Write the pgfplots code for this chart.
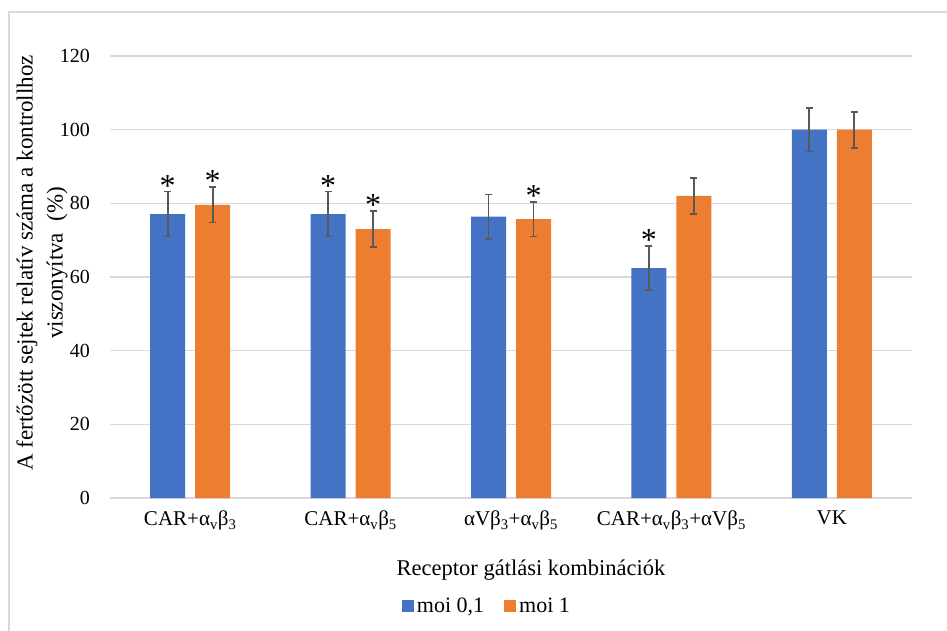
\documentclass[border=0pt]{standalone}
\usepackage{pgfplots}
\pgfplotsset{compat=1.18}
\usepackage{pgfplotstable}
\usepackage{fontspec}
\setmainfont{Liberation Serif}
\definecolor{cblue}{HTML}{4472C4}
\definecolor{corange}{HTML}{ED7D31}
\definecolor{gridc}{HTML}{D9D9D9}
\definecolor{errc}{HTML}{595959}

\pgfplotstableread{
x val err sig
0 77.1 6.1 1
1 77.1 6.1 1
2 76.4 6.0 0
3 62.4 6.0 1
4 100.0 5.95 0
}\blue
\pgfplotstableread{
x val err sig
0 79.6 4.8 1
1 73.0 4.85 1
2 75.7 4.7 1
3 82.0 4.9 0
4 100.0 4.9 0
}\orange

\pgfplotsset{myerr/.style={
  error bars/y dir=both, error bars/y explicit,
  error bars/error bar style={errc, line width=1.8pt},
  error bars/error mark options={errc, rotate=90, mark size=3.5pt, line width=1.8pt}}}

\begin{document}
\begin{tikzpicture}[x=1pt,y=1pt]
\useasboundingbox (0,0) rectangle (947,630);
\draw[gridc, line width=1.5pt] (9,-20) rectangle (980,618);
\begin{axis}[
  at={(110pt,132pt)}, anchor=south west,
  scale only axis, width=802pt, height=442pt,
  ybar=10pt, bar width=35pt,
  xmin=-0.5, xmax=4.5, ymin=0, ymax=120,
  ytick={0,20,...,120},
  xtick=data,
  xticklabels={CAR+α\textsubscript{v}β\textsubscript{3},
               CAR+α\textsubscript{v}β\textsubscript{5},
               αVβ\textsubscript{3}+α\textsubscript{v}β\textsubscript{5},
               CAR+α\textsubscript{v}β\textsubscript{3}+αVβ\textsubscript{5},
               VK},
  axis line style={draw=none},
  major tick length=0pt,
  ymajorgrids, grid style={gridc, line width=1.2pt},
  /pgf/number format/assume math mode=true,
  tick label style={font=\fontsize{20}{24}\selectfont, inner sep=0pt},
  yticklabel style={xshift=-20pt},
  xticklabel style={yshift=-13pt, font=\fontsize{21}{24}\selectfont},
  xlabel={Receptor gátlási kombinációk},
  xlabel style={at={(axis description cs:0.525,-0.163)}, anchor=center, font=\fontsize{22.5}{26}\selectfont},
  ylabel={A fertőzött sejtek relatív száma a kontrollhoz\\viszonyítva\ \ (\%)},
  ylabel style={at={(axis description cs:-0.0848,0.532)}, anchor=center, rotate=0, align=center, font=\fontsize{23}{30}\selectfont},
  legend columns=2,
  legend style={draw=none, at={(axis description cs:0.47,-0.244)}, anchor=center,
     font=\fontsize{22}{25}\selectfont, /tikz/every even column/.append style={column sep=18pt},
     /tikz/every odd column/.append style={column sep=1pt}},
  legend image code/.code={\fill[#1] (0pt,-6pt) rectangle (12pt,6pt);},
  nodes near coords={\ifdim\sig pt>0.5pt *\fi},
  every node near coord/.append style={font=\fontsize{32}{34}\selectfont, anchor=base, inner sep=0pt, yshift={\err*3.6833pt-4.5pt}, text=black},
]
\addplot[fill=cblue, draw=none, myerr,
  visualization depends on={\thisrow{err} \as \err},
  visualization depends on={\thisrow{sig} \as \sig}]
  table[x=x, y=val, y error=err] {\blue};
\addplot[fill=corange, draw=none, myerr,
  visualization depends on={\thisrow{err} \as \err},
  visualization depends on={\thisrow{sig} \as \sig}]
  table[x=x, y=val, y error=err] {\orange};
\legend{moi 0{,}1, moi 1}
\end{axis}
\end{tikzpicture}
\end{document}
